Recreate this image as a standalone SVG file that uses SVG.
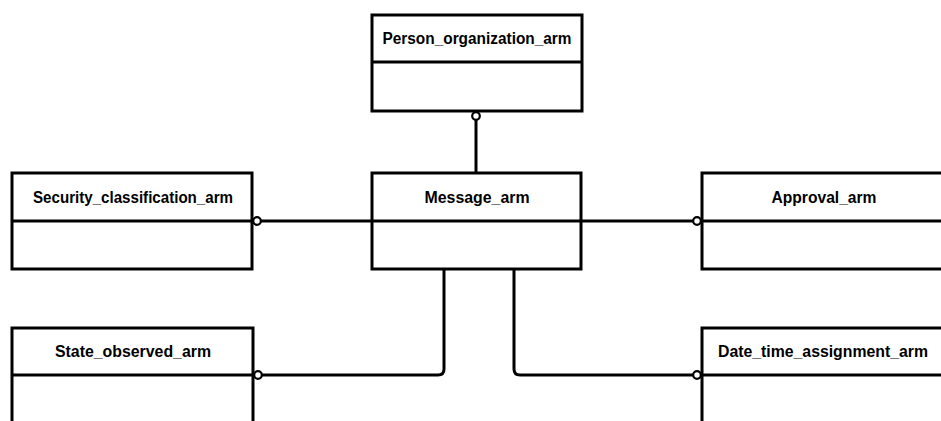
<svg xmlns="http://www.w3.org/2000/svg" width="941" height="421" viewBox="0 0 941 421">
<style>
.box{fill:#fff;stroke:#000;stroke-width:3}
.div{stroke:#000;stroke-width:3}
.lbl{font-family:"Liberation Sans",Arial,sans-serif;font-weight:bold;font-size:16px;text-anchor:middle;fill:#000}
.con{fill:none;stroke:#000;stroke-width:3}
</style>
<defs>
<marker id="circ" markerUnits="userSpaceOnUse" viewBox="0 0 12 12" markerWidth="12" markerHeight="12" refX="11" refY="6" orient="auto">
<circle cx="6" cy="6" r="3.8" fill="#fff" stroke="#000" stroke-width="2.2"/>
</marker>
</defs>
<rect width="941" height="421" fill="#fff"/>
<g id="connectors">
<path class="con" d="M476 173 L476 111" marker-end="url(#circ)"/>
<path class="con" d="M372 221 L252 221" marker-end="url(#circ)"/>
<path class="con" d="M581 221 L702 221" marker-end="url(#circ)"/>
<path class="con" d="M444 269 L444 369 Q444 375 438 375 L253 375" marker-end="url(#circ)"/>
<path class="con" d="M514 269 L514 369 Q514 375 520 375 L702 375" marker-end="url(#circ)"/>
</g>
<g id="Person_organization_arm">
<rect class="box" x="372" y="15" width="210" height="96"/>
<line class="div" x1="372" y1="62" x2="582" y2="62"/>
<text class="lbl" x="477" y="44" textLength="189" lengthAdjust="spacingAndGlyphs">Person_organization_arm</text>
</g>
<g id="Security_classification_arm">
<rect class="box" x="12" y="173" width="240" height="96"/>
<line class="div" x1="12" y1="221" x2="252" y2="221"/>
<text class="lbl" x="133" y="203" textLength="200" lengthAdjust="spacingAndGlyphs">Security_classification_arm</text>
</g>
<g id="Message_arm">
<rect class="box" x="372" y="173" width="209" height="96"/>
<line class="div" x1="372" y1="221" x2="581" y2="221"/>
<text class="lbl" x="477" y="203" textLength="105" lengthAdjust="spacingAndGlyphs">Message_arm</text>
</g>
<g id="Approval_arm">
<rect class="box" x="702" y="173" width="242" height="96"/>
<line class="div" x1="702" y1="221" x2="944" y2="221"/>
<text class="lbl" x="824" y="203" textLength="105" lengthAdjust="spacingAndGlyphs">Approval_arm</text>
</g>
<g id="State_observed_arm">
<rect class="box" x="12" y="328" width="241" height="120"/>
<line class="div" x1="12" y1="375" x2="253" y2="375"/>
<text class="lbl" x="133" y="357" textLength="156" lengthAdjust="spacingAndGlyphs">State_observed_arm</text>
</g>
<g id="Date_time_assignment_arm">
<rect class="box" x="702" y="328" width="242" height="120"/>
<line class="div" x1="702" y1="375" x2="944" y2="375"/>
<text class="lbl" x="823" y="357" textLength="210" lengthAdjust="spacingAndGlyphs">Date_time_assignment_arm</text>
</g>
</svg>
